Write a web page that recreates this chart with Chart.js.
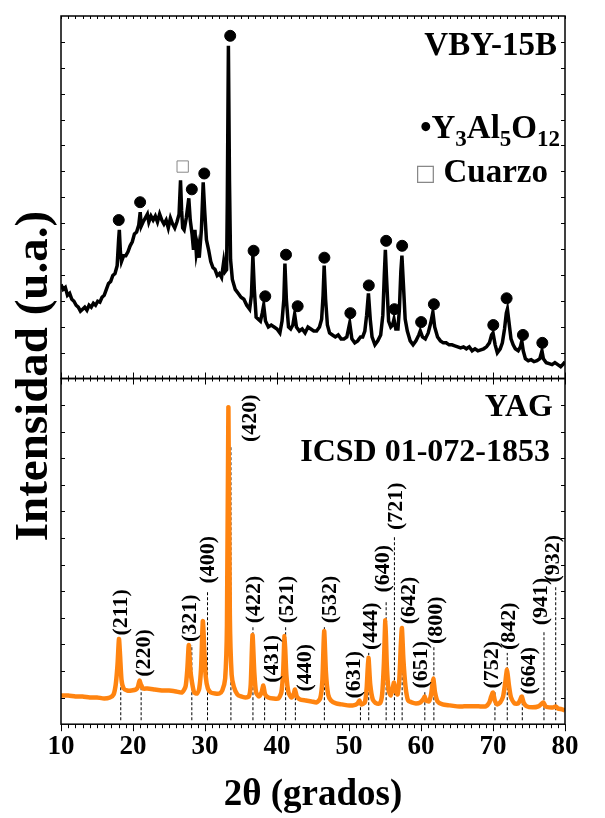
<!DOCTYPE html>
<html>
<head>
<meta charset="utf-8">
<script src="https://cdn.jsdelivr.net/npm/chart.js@4.4.1/dist/chart.umd.min.js"></script>
<style>
  html, body { margin: 0; padding: 0; background: #fff; }
  #wrap { width: 605px; height: 818px; }
</style>
</head>
<body>
<div id="wrap"><canvas id="chart"></canvas></div>
<script>
// VBY-15B sample pattern (top panel), 2theta in degrees, intensity in a.u.
const sampleAngle = [
  10.0, 10.3, 10.6, 10.9, 11.2, 11.5, 11.8, 12.1, 12.4, 12.7, 13.0, 13.3, 13.6, 13.9, 14.2, 14.5, 14.8, 15.1, 15.4, 15.7,
  16.0, 16.3, 16.6, 16.9, 17.2, 17.5, 17.8, 18.0, 18.1, 18.25, 18.4, 18.7, 19.0, 19.3, 19.6, 19.9, 20.2, 20.5, 20.8, 21.0,
  21.15, 21.4, 21.7, 22.0, 22.2, 22.5, 22.8, 23.1, 23.4, 23.7, 24.0, 24.3, 24.6, 24.9, 25.2, 25.5, 25.8, 26.1, 26.4, 26.6,
  26.75, 26.9, 27.1, 27.4, 27.75, 27.95, 28.2, 28.4, 28.6, 28.8, 29.0, 29.2, 29.5, 29.75, 29.95, 30.2, 30.5, 30.8, 31.1, 31.4,
  31.7, 32.0, 32.3, 32.6, 32.8, 33.0, 33.1, 33.25, 33.4, 33.55, 33.8, 34.2, 34.6, 35.0, 35.4, 35.8, 36.2, 36.45, 36.65, 36.85,
  37.1, 37.4, 37.7, 37.95, 38.15, 38.4, 38.8, 39.2, 39.6, 40.0, 40.4, 40.7, 40.95, 41.1, 41.3, 41.6, 41.9, 42.2, 42.45, 42.7,
  43.1, 43.5, 43.9, 44.3, 44.7, 45.1, 45.5, 45.9, 46.2, 46.4, 46.55, 46.75, 47.0, 47.3, 47.7, 48.1, 48.5, 48.9, 49.3, 49.7,
  50.1, 50.4, 50.8, 51.2, 51.6, 51.9, 52.2, 52.45, 52.7, 52.95, 53.2, 53.6, 54.0, 54.4, 54.7, 54.9, 55.05, 55.2, 55.5, 55.8,
  56.05, 56.25, 56.5, 56.8, 57.0, 57.2, 57.35, 57.55, 57.8, 58.1, 58.5, 58.9, 59.3, 59.7, 59.9, 60.2, 60.6, 61.0, 61.35, 61.65,
  61.9, 62.3, 62.7, 63.1, 63.5, 63.9, 64.3, 64.7, 65.1, 65.5, 65.9, 66.3, 66.7, 67.1, 67.5, 67.9, 68.3, 68.7, 69.1, 69.5,
  69.8, 70.0, 70.3, 70.6, 71.0, 71.3, 71.6, 71.85, 72.0, 72.2, 72.5, 72.8, 73.1, 73.5, 73.8, 74.0, 74.2, 74.5, 74.9, 75.3,
  75.7, 76.1, 76.5, 76.8, 77.0, 77.4, 77.8, 78.2, 78.6, 79.0, 79.4, 79.8, 80.0
];
const sampleIntensity = [
  95, 90, 92, 84, 86, 80, 78, 74, 72, 68, 70, 72, 69, 74, 72, 76, 74, 78, 77, 82,
  84, 90, 96, 98, 104, 106, 114, 140, 150, 128, 118, 124, 124, 128, 134, 138, 146, 148, 155, 168,
  154, 158, 162, 166, 158, 164, 160, 164, 158, 166, 160, 156, 160, 152, 162, 156, 152, 158, 166, 200,
  170, 152, 150, 162, 182, 160, 146, 130, 150, 126, 134, 122, 150, 198, 170, 140, 130, 118, 112, 110,
  104, 106, 102, 118, 108, 110, 180, 336, 200, 120, 100, 90, 86, 82, 80, 74, 70, 84, 124, 90,
  62, 60, 58, 66, 74, 58, 52, 54, 52, 50, 46, 58, 80, 116, 80, 52, 50, 54, 65, 52,
  48, 50, 46, 52, 50, 48, 48, 52, 60, 84, 114, 80, 54, 46, 44, 42, 44, 40, 40, 42,
  56, 40, 36, 38, 42, 42, 48, 64, 86, 60, 42, 34, 38, 44, 64, 104, 130, 104, 58, 52,
  54, 60, 50, 50, 70, 108, 124, 96, 60, 48, 38, 34, 38, 44, 48, 42, 40, 46, 56, 67,
  52, 42, 38, 36, 36, 34, 34, 33, 32, 31, 32, 30, 32, 28, 30, 28, 29, 30, 32, 36,
  44, 46, 34, 26, 30, 36, 50, 66, 70, 58, 40, 34, 30, 28, 32, 38, 28, 20, 18, 19,
  17, 18, 20, 28, 20, 16, 15, 14, 16, 14, 12, 15, 17
];

// YAG (Y3Al5O12) markers and quartz marker on the sample pattern
const yagMarkAngle = [18.02, 20.99, 28.17, 29.9, 33.5, 36.75, 38.37, 41.25, 42.87, 46.58, 50.19, 52.75, 55.16, 56.31, 57.38, 60.02, 61.79, 70.04, 71.89, 74.16, 76.85];
const yagMarkIntensity = [160, 178, 191, 207, 346, 129, 83, 125, 73, 122, 66, 94, 139, 70, 134, 57, 75, 54, 81, 44, 36];
const quartzMarkAngle = [26.9];
const quartzMarkIntensity = [214];

// YAG reference pattern, ICSD 01-072-1853 (bottom panel)
const yagAngle = [
  10.0, 11.0, 12.0, 13.0, 14.0, 15.0, 16.0, 16.8, 17.3, 17.6, 17.85, 18.05, 18.2, 18.4, 18.7, 19.2, 19.8, 20.4, 20.7, 20.9,
  21.1, 21.4, 22.0, 23.0, 24.0, 25.0, 26.0, 26.8, 27.3, 27.55, 27.75, 27.95, 28.2, 28.5, 28.9, 29.2, 29.45, 29.7, 29.9, 30.1,
  30.4, 30.8, 31.4, 32.0, 32.4, 32.8, 33.05, 33.25, 33.45, 33.7, 34.0, 34.5, 35.0, 35.6, 36.1, 36.35, 36.6, 36.85, 37.1, 37.5,
  37.85, 38.1, 38.35, 38.8, 39.5, 40.2, 40.6, 40.85, 41.05, 41.3, 41.6, 42.0, 42.3, 42.5, 42.75, 43.2, 44.0, 44.8, 45.5, 46.0,
  46.3, 46.55, 46.8, 47.1, 47.5, 48.2, 49.0, 49.8, 50.6, 51.2, 51.45, 51.7, 52.2, 52.45, 52.7, 52.95, 53.3, 53.8, 54.3, 54.6,
  54.85, 55.05, 55.25, 55.5, 55.8, 56.05, 56.25, 56.45, 56.75, 57.0, 57.2, 57.35, 57.55, 57.85, 58.2, 58.7, 59.3, 59.9, 60.3, 60.5,
  60.7, 61.1, 61.4, 61.7, 61.95, 62.3, 63.0, 64.0, 65.0, 66.0, 67.0, 68.0, 69.0, 69.5, 69.75, 70.0, 70.25, 70.6, 71.0, 71.4,
  71.7, 71.95, 72.2, 72.5, 73.0, 73.5, 73.8, 74.0, 74.25, 74.7, 75.5, 76.3, 76.8, 77.0, 77.3, 77.8, 78.4, 78.7, 79.0, 79.6,
  80.0
];
const yagIntensity = [
  29, 29, 28, 28, 27, 27, 26, 27, 30, 40, 60, 86, 70, 45, 36, 34, 34, 35, 38, 44,
  40, 36, 36, 35, 34, 34, 33, 32, 38, 56, 80, 56, 42, 32, 31, 36, 56, 104, 76, 48,
  36, 32, 31, 31, 34, 46, 100, 320, 110, 50, 38, 30, 28, 27, 28, 40, 90, 52, 32, 28,
  32, 39, 30, 27, 26, 26, 32, 52, 89, 50, 32, 27, 30, 35, 28, 25, 24, 23, 22, 26,
  44, 94, 52, 30, 24, 21, 20, 19, 19, 21, 24, 20, 22, 36, 67, 40, 25, 21, 21, 30,
  62, 105, 60, 34, 29, 36, 42, 34, 30, 46, 80, 97, 66, 38, 24, 22, 21, 22, 25, 28,
  24, 23, 30, 46, 32, 23, 20, 19, 18, 18, 18, 18, 18, 22, 28, 32, 24, 20, 22, 28,
  42, 55, 40, 27, 21, 21, 25, 28, 22, 18, 17, 18, 21, 22, 18, 17, 17, 18, 16, 15,
  14
];

// Miller indices of the reference card
const hklNames = ['(211)', '(220)', '(321)', '(400)', '(420)', '(422)', '(431)', '(521)', '(440)', '(532)', '(631)',
  '(444)', '(640)', '(721)', '(642)', '(651)', '(800)', '(752)', '(842)', '(664)', '(941)', '(932)'];
const hklAngle = [18.3, 21.13, 28.17, 30.35, 33.6, 36.66, 38.28, 41.2, 42.55, 46.58, 51.59,
  52.74, 55.16, 56.31, 57.38, 60.53, 61.79, 70.27, 71.98, 74.07, 77.08, 78.71];
const hklLineTop = [70, 40, 80, 134, 280, 99, 39, 99, 30, 99, 24, 72, 124, 189, 97, 34, 79, 34, 72, 27, 94, 140];
const hklLabelAngle = [18.39, 21.59, 27.99, 30.49, 36.29, 36.84, 39.3, 41.48, 43.94, 47.41, 50.75,
  53.07, 54.83, 56.55, 58.4, 59.98, 62.11, 69.9, 72.22, 75.09, 76.76, 78.33];
const hklLabelIntensity = [113, 72, 107, 166, 309, 126, 66, 126, 57, 126, 50, 99, 157, 220, 125, 60, 105, 60, 99, 54, 124, 167];

const xTicks = [10, 20, 30, 40, 50, 60, 70, 80];

const toXY = (xs, ys) => xs.map((x, i) => ({x: x, y: ys[i]}));

const guides = [];
hklAngle.forEach((a, i) => {
  guides.push({x: a, y: 4}, {x: a, y: hklLineTop[i]}, {x: a, y: null});
});

const serif = "'Liberation Serif', 'Times New Roman', serif";

const decorations = {
  id: 'decorations',
  afterDraw(chart) {
    const ctx = chart.ctx;
    const area = chart.chartArea;
    const x = chart.scales.x;
    const yt = chart.scales.yTop;
    const yb = chart.scales.yBot;
    const w = area.right - area.left;

    ctx.save();
    ctx.strokeStyle = '#000';
    ctx.lineWidth = 1.5;
    ctx.strokeRect(area.left, yt.top, w, yt.bottom - yt.top);
    ctx.strokeRect(area.left, yb.top, w, yb.bottom - yb.top);

    ctx.lineWidth = 1;
    const seg = (x1, y1, x2, y2) => {
      ctx.beginPath();
      ctx.moveTo(x1, y1);
      ctx.lineTo(x2, y2);
      ctx.stroke();
    };
    // x ticks, every degree
    for (let d = 10; d <= 80; d++) {
      const px = Math.round(x.getPixelForValue(d)) + 0.5;
      const major = d % 10 === 0;
      seg(px, yt.top, px, yt.top + 3);
      seg(px, yt.bottom, px, yt.bottom - (major ? 6 : 3));
      seg(px, yb.top, px, yb.top + (major ? 6 : 3));
      seg(px, yb.bottom, px, yb.bottom + (major ? 7 : 4));
    }
    // y ticks, inward on both sides
    [[yt, 14], [yb, 13]].forEach(([s, n]) => {
      for (let k = 1; k < n; k++) {
        const py = Math.round(s.getPixelForValue(s.max * k / n)) + 0.5;
        seg(area.left, py, area.left + 4, py);
        seg(area.right, py, area.right - 4, py);
      }
    });

    // hkl labels
    ctx.fillStyle = '#000';
    ctx.font = 'bold 22px ' + serif;
    ctx.textAlign = 'center';
    ctx.textBaseline = 'middle';
    hklNames.forEach((name, i) => {
      ctx.save();
      ctx.translate(x.getPixelForValue(hklLabelAngle[i]), yb.getPixelForValue(hklLabelIntensity[i]));
      ctx.rotate(-Math.PI / 2);
      ctx.fillText(name, 0, 0);
      ctx.restore();
    });

    // panel captions
    const right = area.right - 8;
    ctx.textAlign = 'right';
    ctx.textBaseline = 'alphabetic';
    ctx.font = 'bold 33px ' + serif;
    ctx.fillText('VBY-15B', right, yt.top + 39);
    ctx.font = 'bold 32px ' + serif;
    ctx.fillText('YAG', right - 4, yb.top + 37);
    ctx.fillText('ICSD 01-072-1853', right - 7, yb.top + 82);

    // formula with subscripts
    const parts = [['•', 0], ['Y', 0], ['3', 1], ['Al', 0], ['5', 1], ['O', 0], ['12', 1]];
    const big = 'bold 33px ' + serif;
    const small = 'bold 23px ' + serif;
    let total = 0;
    parts.forEach(([t, sub]) => { ctx.font = sub ? small : big; total += ctx.measureText(t).width; });
    let cx = area.right - 5 - total;
    ctx.textAlign = 'left';
    const base = yt.top + 122;
    parts.forEach(([t, sub]) => {
      ctx.font = sub ? small : big;
      ctx.fillText(t, cx, base + (sub ? 8 : 0));
      cx += ctx.measureText(t).width;
    });

    ctx.font = big;
    ctx.textAlign = 'right';
    ctx.fillText('Cuarzo', right - 9, yt.top + 166);
    ctx.fillStyle = '#888';
    ctx.font = "22px 'DejaVu Sans'";
    ctx.textAlign = 'left';
    ctx.fillText('□', 415, yt.top + 164);

    // y axis title
    ctx.fillStyle = '#000';
    ctx.font = 'bold 47px ' + serif;
    ctx.textAlign = 'center';
    ctx.textBaseline = 'middle';
    ctx.translate(35, (yt.top + yb.bottom) / 2 + 6);
    ctx.rotate(-Math.PI / 2);
    ctx.fillText('Intensidad (u.a.)', 0, 0);
    ctx.restore();
  }
};

new Chart(document.getElementById('chart'), {
  type: 'line',
  data: {
    datasets: [{
      data: toXY(yagMarkAngle, yagMarkIntensity),
      yAxisID: 'yTop',
      showLine: false,
      pointRadius: 5.5,
      pointBackgroundColor: '#000',
      pointBorderColor: '#000'
    }, {
      data: toXY(quartzMarkAngle, quartzMarkIntensity),
      yAxisID: 'yTop',
      showLine: false,
      pointStyle: 'rect',
      pointRadius: 8,
      pointBorderWidth: 1,
      pointBackgroundColor: '#fff',
      pointBorderColor: '#888'
    }, {
      data: toXY(sampleAngle, sampleIntensity),
      yAxisID: 'yTop',
      borderColor: '#000',
      borderWidth: 3.5,
      pointRadius: 0,
      tension: 0
    }, {
      data: toXY(yagAngle, yagIntensity),
      yAxisID: 'yBot',
      borderColor: '#ff8410',
      borderWidth: 4.5,
      pointRadius: 0,
      tension: 0.2
    }, {
      data: guides,
      yAxisID: 'yBot',
      borderColor: '#000',
      borderWidth: 1,
      borderDash: [3, 2],
      pointRadius: 0,
      spanGaps: false
    }]
  },
  options: {
    responsive: true,
    maintainAspectRatio: false,
    animation: false,
    layout: { padding: { left: 61, right: 40, top: 16, bottom: 0 } },
    plugins: { legend: { display: false }, tooltip: { enabled: false } },
    scales: {
      x: {
        type: 'linear',
        min: 10,
        max: 80,
        afterBuildTicks: axis => { axis.ticks = xTicks.map(v => ({value: v})); },
        grid: { display: false, drawTicks: false },
        border: { display: false },
        ticks: {
          color: '#000',
          padding: 7,
          maxRotation: 0,
          font: { family: serif, size: 27, weight: 'bold' }
        },
        title: {
          display: true,
          text: '2θ (grados)',
          color: '#000',
          padding: { top: 3, bottom: 0 },
          font: { family: serif, size: 37, weight: 'bold' }
        }
      },
      yBot: {
        type: 'linear',
        position: 'left',
        stack: 'xrd',
        stackWeight: 349,
        min: 0,
        max: 349,
        ticks: { display: false },
        grid: { display: false, drawTicks: false },
        border: { display: false }
      },
      yTop: {
        type: 'linear',
        position: 'left',
        stack: 'xrd',
        stackWeight: 366,
        min: 0,
        max: 366,
        ticks: { display: false },
        grid: { display: false, drawTicks: false },
        border: { display: false }
      }
    }
  },
  plugins: [decorations]
});
</script>
</body>
</html>
